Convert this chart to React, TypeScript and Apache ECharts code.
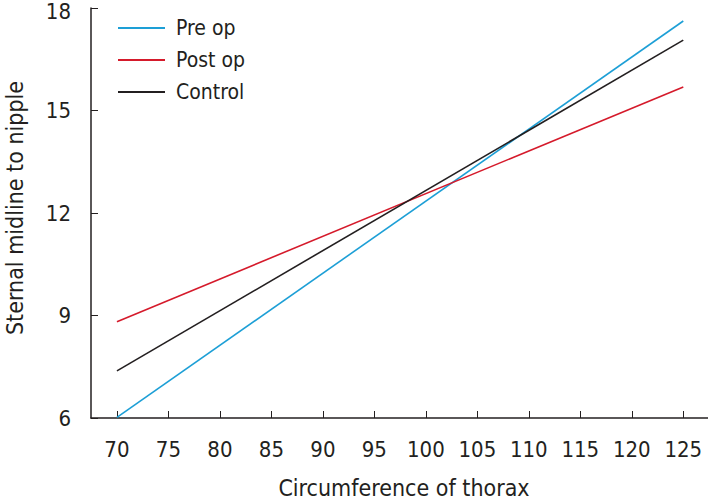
import React, { useEffect, useRef } from "react";
import * as echarts from "echarts";

const xValues = [70, 125];
const preOp = [6.02, 17.62];
const postOp = [8.82, 15.69];
const control = [7.38, 17.06];
const seriesNames = ["Pre op", "Post op", "Control"];
const seriesColors = ["#1d9fd6", "#d51a2b", "#231f20"];
const xTicks = [70, 75, 80, 85, 90, 95, 100, 105, 110, 115, 120, 125];
const yTicks = [6, 9, 12, 15, 18];
const xTitle = "Circumference of thorax";
const yTitle = "Sternal midline to nipple";

const FONT = "'DejaVu Sans Condensed', 'Liberation Sans Narrow', 'Noto Sans', sans-serif";
const INK = "#231f20";

export default function App() {
  const ref = useRef<HTMLDivElement>(null);
  useEffect(() => {
    if (!ref.current) return;
    const chart = echarts.init(ref.current, undefined, { renderer: "svg" });
    const allSeries = [preOp, postOp, control];
    const yMax = yTicks[yTicks.length - 1];
    chart.setOption({
      animation: false,
      grid: { left: 91, right: 0, top: 8, bottom: 81, containLabel: false, outerBoundsMode: "none" },
      legend: {
        orient: "vertical",
        left: 113,
        top: 12,
        itemWidth: 47,
        itemHeight: 2,
        itemGap: 10,
        icon: "rect",
        data: seriesNames,
        textStyle: { fontFamily: FONT, fontSize: 21, color: INK, lineHeight: 22, padding: [0, 0, 0, 6] },
      },
      xAxis: {
        type: "value",
        min: 67.48,
        max: 127.4,
        interval: 5,
        axisLine: { show: true, lineStyle: { color: INK, width: 1.5 } },
        axisTick: { show: true, inside: true, length: 7, lineStyle: { color: INK, width: 1 }, customValues: xTicks },
        axisLabel: {
          customValues: xTicks,
          margin: 20,
          fontFamily: FONT,
          fontSize: 22,
          color: INK,
        },
        splitLine: { show: false },
      },
      yAxis: {
        type: "value",
        min: 6,
        max: 18,
        interval: 3,
        axisLine: { show: true, lineStyle: { color: INK, width: 1.5 } },
        axisTick: { show: true, inside: true, length: 7, lineStyle: { color: INK, width: 1 }, customValues: yTicks },
        axisLabel: {
          customValues: yTicks,
          margin: 20,
          fontFamily: FONT,
          fontSize: 22,
          color: INK,
          formatter: (v: number) => (v === yMax ? `{top|${v}}` : `${v}`),
          rich: {
            top: { fontFamily: FONT, fontSize: 22, color: INK, padding: [7, 0, 0, 0] },
          },
        },
        splitLine: { show: false },
      },
      graphic: [
        {
          type: "text",
          x: 404,
          y: 476,
          style: { text: xTitle, fontFamily: FONT, fontSize: 23, fill: INK, textAlign: "center", textVerticalAlign: "top" },
        },
        {
          type: "text",
          x: 15,
          y: 208,
          rotation: Math.PI / 2,
          style: { text: yTitle, fontFamily: FONT, fontSize: 23, fill: INK, textAlign: "center", textVerticalAlign: "middle" },
        },
      ],
      series: allSeries.map((vals, i) => ({
        name: seriesNames[i],
        type: "line",
        data: xValues.map((x, j) => [x, vals[j]]),
        showSymbol: false,
        symbol: "none",
        lineStyle: { color: seriesColors[i], width: 1.6 },
        itemStyle: { color: seriesColors[i] },
      })),
    });
    return () => chart.dispose();
  }, []);
  return <div ref={ref} style={{ width: 708, height: 499, position: "absolute", left: 0, top: 0, background: "#fff" }} />;
}
